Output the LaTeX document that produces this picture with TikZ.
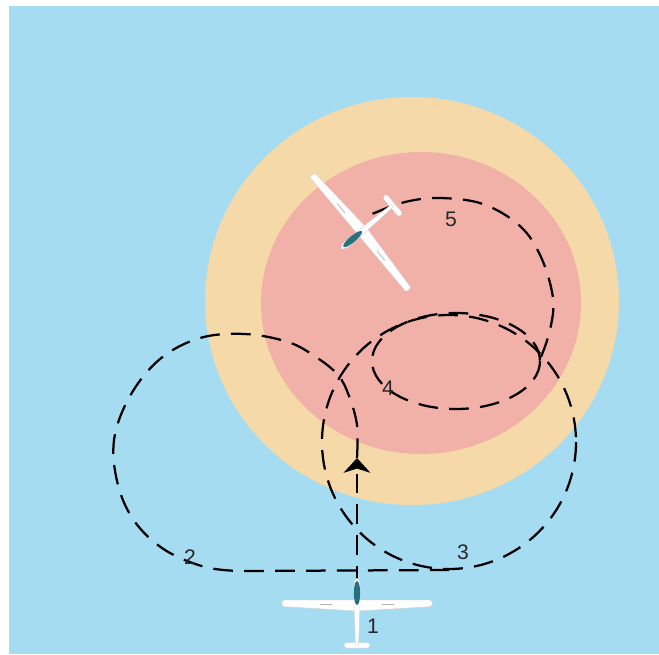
\documentclass[tikz,border=0pt]{standalone}
\usepackage{fontspec}
\setmainfont{Liberation Sans}
\usepackage{tikz}
\usepackage{tkz-euclide}
\usetikzlibrary{arrows.meta}

\definecolor{sky}{RGB}{166,220,242}
\definecolor{liftout}{RGB}{245,217,168}
\definecolor{liftin}{RGB}{242,177,168}
\definecolor{canopy}{RGB}{38,112,128}

\tikzset{
  trail/.style={line width=1.6pt, dash pattern=on 14pt off 8pt},
  num/.style={font=\fontsize{15}{18}\selectfont, text=black!85, inner sep=0pt},
  glider/.pic={
    % wings
    \fill[white, draw=black!20, line width=0.2pt, rounded corners=1.5]
      (-75,-4) -- (75,-4) -- (75,2.5) -- (0,7) -- (-75,2.5) -- cycle;
    \draw[black!30, line width=0.5pt] (-37,0) -- (-25,0) (25,0) -- (37,0);
    % tail
    \fill[white, draw=black!20, line width=0.2pt, rounded corners=2]
      (-13,38.5) rectangle (13,44);
    % fuselage
    \fill[white, draw=black!20, line width=0.2pt]
      (0,-26) .. controls (3.5,-24) and (3.5,-18) .. (3.2,-10) -- (2.8,6)
      -- (1.5,42) -- (-1.5,42) -- (-2.8,6) -- (-3.2,-10)
      .. controls (-3.5,-18) and (-3.5,-24) .. (0,-26) -- cycle;
    % canopy
    \fill[canopy] (0,-11) ellipse [x radius=3.2, y radius=12];
  },
}

\begin{document}
\begin{tikzpicture}[x=0.025cm, y=-0.025cm]
  \useasboundingbox (0,0) rectangle (659,654);
  \fill[white] (0,0) rectangle (659,654);
  \fill[sky] (9,6) rectangle (659,654);

  % thermal
  \tkzDefPoint(412,301){O}
  \tkzDefPoint(421,303){I}
  \fill[liftout] (O) ellipse [x radius=207, y radius=204];
  \fill[liftin] (I) ellipse [x radius=160, y radius=151];

  % centres of the turns
  \tkzDefPoint(449,442){T3}
  \tkzDefPoint(456,361){T4}

  % approach
  \draw[trail, -{Stealth[length=10.5pt, width=19pt, inset=3pt]}] (357,586) -- (357,458);

  % first turn, outside the core
  \draw[trail] plot[smooth, tension=0.6] coordinates {
    (357,458) (357,425) (349,396) (338,375) (316,357) (288,342) (245,334)
    (200,338) (160,359) (130,396) (114,440) (118,485) (135,522) (165,550)
    (205,567) (240,571)} -- (449,570);

  % second turn
  \draw[trail] (T3) circle [radius=127];

  % third turn, centred
  \draw[trail] (T4) ellipse [x radius=84, y radius=48];

  % last turn up to the glider
  \draw[trail] plot[smooth, tension=0.6] coordinates {
    (541,357) (550,330) (553,298) (541,257) (520,226) (483,204) (440,198)
    (405,202) (372,214)};

  % gliders
  \pic at (357,604) {glider};
  \pic[rotate=130] at (361,232) {glider};

  % labels
  \node[num] (n1) at (373,626) {1};
  \node[num] (n2) at (190,557) {2};
  \node[num] (n3) at (463,552) {3};
  \node[num] (n4) at (388,388) {4};
  \node[num] (n5) at (451,219) {5};
\end{tikzpicture}
\end{document}
